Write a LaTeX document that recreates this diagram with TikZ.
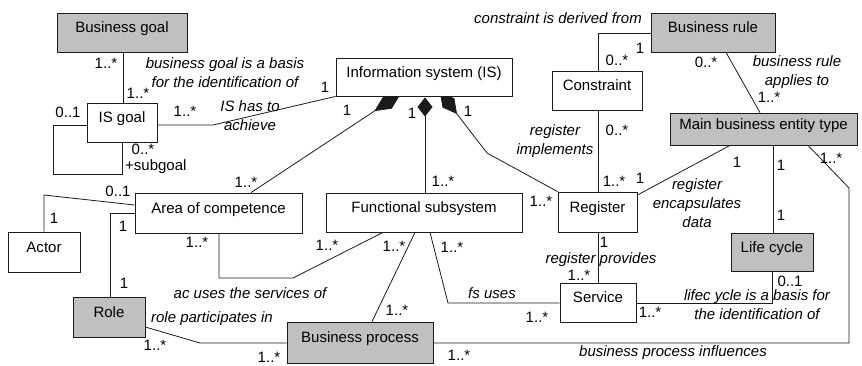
\documentclass[tikz,border=0pt]{standalone}
\usepackage{fontspec}
\setmainfont{Liberation Sans}
\usetikzlibrary{arrows.meta,backgrounds}
\definecolor{boxgray}{HTML}{C0C0C0}
\definecolor{ln}{HTML}{1A1A1A}
\begin{document}
\begin{tikzpicture}[x=1pt,y=-1pt,font=\fontsize{15}{19}\selectfont,
  box/.style={draw=ln,line width=0.8pt,fill=white,inner sep=0pt,text height=11pt,text depth=11pt},
  gbox/.style={box,fill=boxgray},
  mult/.style={inner sep=0pt,text height=10.7pt,text depth=0pt},
  lab/.style={inner sep=0pt,font=\fontsize{15}{19}\selectfont\itshape,align=center},
  conn/.style={draw=ln,line width=0.8pt},
  comp/.style={-{Diamond[length=#1,width=15pt]}}]
\useasboundingbox (0,0) rectangle (862,365);
% boxes
\node[gbox,minimum width=130pt,minimum height=39pt] (bgoal) at (122,32.5) {Business goal};
\node[box,minimum width=70pt,minimum height=39pt] (isgoal) at (122,122.5) {IS goal};
\node[box,minimum width=176pt,minimum height=38pt] (is) at (424,77) {Information system (IS)};
\node[gbox,minimum width=124pt,minimum height=39pt] (brule) at (713,32.5) {Business rule};
\node[box,minimum width=90pt,minimum height=39pt] (constr) at (597,90.5) {Constraint};
\node[gbox,minimum width=187pt,minimum height=32pt] (mbet) at (763.5,129) {Main business entity type};
\node[box,minimum width=167pt,minimum height=40pt] (area) at (218.5,213) {Area of competence};
\node[box,minimum width=196pt,minimum height=39pt] (fs) at (424,212.5) {Functional subsystem};
\node[box,minimum width=79pt,minimum height=40pt] (reg) at (597.5,212) {Register};
\node[box,minimum width=72pt,minimum height=40pt] (actor) at (44,252) {Actor};
\node[gbox,minimum width=82pt,minimum height=38pt] (life) at (772,252) {Life cycle};
\node[gbox,minimum width=72pt,minimum height=40pt] (role) at (109,317) {Role};
\node[box,minimum width=76pt,minimum height=39pt] (service) at (598,302.5) {Service};
\node[gbox,minimum width=146pt,minimum height=41pt] (bp) at (360,342.5) {Business process};
% connectors
\begin{pgfonlayer}{background}
\draw[conn] (123,0 |- bgoal.south) -- (123,0 |- isgoal.north);
\draw[conn] (0,125 -| isgoal.west) -- (53,125) -- (53,174) -- (122,174) -- (122,0 |- isgoal.south);
\draw[conn] (0,125 -| isgoal.east) -- (213,125) -- (is.south west);
\draw[conn,comp=32pt] (251,0 |- area.north) -- (401,93.5);
\draw[conn,comp=19pt] (425,0 |- fs.north) -- (425,97.5);
\draw[conn,comp=28pt] (reg.north west) -- (487,153) -- (439.9,91.8);
\draw[conn] (0,33 -| brule.west) -- (598,33) -- (598,0 |- constr.north);
\draw[conn] (598,0 |- constr.south) -- (598,0 |- reg.north);
\draw[conn] (726,0 |- brule.south) -- (760,0 |- mbet.north);
\draw[conn] (0,195 -| reg.east) -- (730,0 |- mbet.south);
\draw[conn] (773,0 |- mbet.south) -- (773,0 |- life.north);
\draw[conn] (808,0 |- mbet.south) -- (849,188) -- (849,343) -- (0,343 -| bp.east);
\draw[conn] (44,0 |- actor.north) -- (44,195) -- (0,205 -| area.west);
\draw[conn] (110,0 |- role.north) -- (110,213) -- (0,213 -| area.west);
\draw[conn] (219,0 |- area.south) -- (219,278) -- (293,278) -- (383,0 |- fs.south);
\draw[conn] (415,0 |- fs.south) -- (372,0 |- bp.north);
\draw[conn] (430,0 |- fs.south) -- (448,303) -- (0,303 -| service.west);
\draw[conn] (598,0 |- reg.south) -- (598,0 |- service.north);
\draw[conn] (0,303 -| service.east) -- (772,303) -- (772,0 |- life.south);
\draw[conn] (0,327 -| role.east) -- (200,343) -- (0,343 -| bp.west);
\end{pgfonlayer}
% multiplicities
\node[mult] (m1) at (106,63) {1..*};
\node[mult] (m2) at (138,93) {1..*};
\node[mult] (m3) at (68,112) {0..1};
\node[mult] (m4) at (185,111) {1..*};
\node[mult] (m5) at (325,87) {1};
\node[mult] (m6) at (143,149) {0..*};
\node[mult] (m7) at (347,110) {1};
\node[mult] (m8) at (412,113) {1};
\node[mult] (m9) at (468,111) {1};
\node[mult] (m10) at (246,182) {1..*};
\node[mult] (m11) at (443,181) {1..*};
\node[mult] (m12) at (541,201) {1..*};
\node[mult] (m13) at (617,130) {0..*};
\node[mult] (m14) at (614,181) {1..*};
\node[mult] (m15) at (640,178) {1};
\node[mult] (m16) at (737,162) {1};
\node[mult] (m17) at (781,165) {1};
\node[mult] (m18) at (781,215) {1};
\node[mult] (m19) at (831,158) {1..*};
\node[mult] (m20) at (640,48) {1};
\node[mult] (m21) at (617,60) {0..*};
\node[mult] (m22) at (706,62) {0..*};
\node[mult] (m23) at (769,97) {1..*};
\node[mult] (m24) at (118,191) {0..1};
\node[mult] (m25) at (54,218) {1};
\node[mult] (m26) at (123,226) {1};
\node[mult] (m27) at (124,283) {1};
\node[mult] (m28) at (197,242) {1..*};
\node[mult] (m29) at (327,245) {1..*};
\node[mult] (m30) at (394,246) {1..*};
\node[mult] (m31) at (452,247) {1..*};
\node[mult] (m32) at (397,310) {1..*};
\node[mult] (m33) at (537,317) {1..*};
\node[mult] (m34) at (604,242) {1};
\node[mult] (m35) at (579,275) {1..*};
\node[mult] (m36) at (790,281) {0..1};
\node[mult] (m37) at (650,312) {1..*};
\node[mult] (m38) at (155,345) {1..*};
\node[mult] (m39) at (269,357) {1..*};
\node[mult] (m40) at (459,355) {1..*};
% association labels
\node[lab] (t1) at (225,73) {business goal is a basis\\for the identification of};
\node[lab] (t2) at (250,116) {IS has to\\achieve};
\node[lab] (t3) at (558,18) {constraint is derived from};
\node[lab] (t4) at (797,72) {business rule\\applies to};
\node[lab] (t5) at (555,141) {register\\implements};
\node[lab] (t6) at (697,203) {register\\encapsulates\\data};
\node[lab] (t7) at (601,260) {register provides};
\node[lab] (t8) at (757,305) {lifec ycle is a basis for\\the identification of};
\node[lab] (t9) at (492,293) {fs uses};
\node[lab] (t10) at (250,293) {ac uses the services of};
\node[lab] (t11) at (212,319) {role participates in};
\node[lab] (t12) at (673,353) {business process influences};
\node[inner sep=0pt,anchor=west] (t13) at (125,167) {+subgoal};
\end{tikzpicture}
\end{document}
